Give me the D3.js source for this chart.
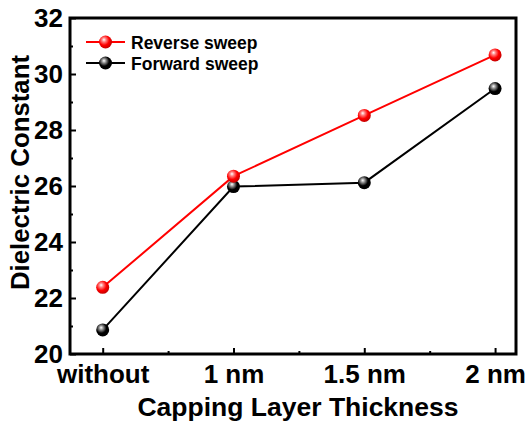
<!DOCTYPE html>
<html>
<head>
<meta charset="utf-8">
<script src="https://cdn.jsdelivr.net/npm/d3@7"></script>
<style>
  html, body { margin: 0; padding: 0; background: #fff; }
  svg text { font-family: "Liberation Sans", Arial, sans-serif; font-weight: bold; fill: #000; }
</style>
</head>
<body>
<svg id="chart" width="526" height="422"></svg>
<script>
// Capping layer thickness categories and dielectric constant per sweep direction
const categories = ["without", "1 nm", "1.5 nm", "2 nm"];
const reverseSweep = [22.38, 26.35, 28.52, 30.68];
const forwardSweep = [20.86, 25.98, 26.12, 29.48];
const yTicks = [20, 22, 24, 26, 28, 30, 32];
const seriesNames = ["Reverse sweep", "Forward sweep"];

const svg = d3.select("#chart");
const margin = { left: 70, right: 10, top: 18, bottom: 68 };
const W = 526, H = 422;
const x0 = margin.left, x1 = W - margin.right, y0 = H - margin.bottom, y1 = margin.top;

const x = d3.scaleLinear().domain([-0.25, 3.16]).range([x0, x1]);
const y = d3.scaleLinear().domain([20, 32]).range([y0, y1]);

// sphere-like marker shading
const defs = svg.append("defs");
function sphere(id, base, mid, dark) {
  const g = defs.append("radialGradient").attr("id", id)
    .attr("cx", "40%").attr("cy", "38%").attr("r", "65%").attr("fx", "38%").attr("fy", "32%");
  g.append("stop").attr("offset", "0%").attr("stop-color", "#ffffff");
  g.append("stop").attr("offset", "25%").attr("stop-color", mid);
  g.append("stop").attr("offset", "60%").attr("stop-color", base);
  g.append("stop").attr("offset", "100%").attr("stop-color", dark);
}
sphere("gRed", "#ff0000", "#ff8080", "#c00000");
sphere("gBlack", "#000000", "#909090", "#000000");

// axes: ticks pointing inward
const xAxis = d3.axisBottom(x).tickValues([0, 1, 2, 3]).tickFormat(i => categories[i]).tickSizeInner(-6).tickSizeOuter(0).tickPadding(11);
const xMinor = d3.axisBottom(x).tickValues([0.5, 1.5, 2.5]).tickFormat("").tickSizeInner(-3).tickSizeOuter(0);
const yAxis = d3.axisLeft(y).tickValues(yTicks).tickSizeInner(-6).tickSizeOuter(0).tickPadding(7);
const yMinor = d3.axisLeft(y).tickValues([21, 23, 25, 27, 29, 31]).tickFormat("").tickSizeInner(-3).tickSizeOuter(0);

function styleAxis(g) {
  g.select(".domain").remove();
  g.selectAll(".tick line").attr("stroke", "#000").attr("stroke-width", 2);
  g.selectAll("text").style("font-size", "26px");
}
svg.append("g").attr("transform", `translate(0,${y0})`).call(xAxis).call(styleAxis);
svg.append("g").attr("transform", `translate(0,${y0})`).call(xMinor).call(styleAxis);
svg.append("g").attr("transform", `translate(${x0},0)`).call(yAxis).call(styleAxis);
svg.append("g").attr("transform", `translate(${x0},0)`).call(yMinor).call(styleAxis);

// frame
svg.append("rect").attr("x", x0).attr("y", y1).attr("width", x1 - x0).attr("height", y0 - y1)
  .attr("fill", "none").attr("stroke", "#000").attr("stroke-width", 3);

// titles
svg.append("text").attr("x", 298).attr("y", 416).attr("text-anchor", "middle")
  .style("font-size", "26.5px").text("Capping Layer Thickness");
svg.append("text").attr("transform", "translate(29,172.5) rotate(-90)").attr("text-anchor", "middle")
  .style("font-size", "25.8px").text("Dielectric Constant");

// series
const series = [
  { name: seriesNames[0], values: reverseSweep, color: "#ff0000", fill: "url(#gRed)" },
  { name: seriesNames[1], values: forwardSweep, color: "#000000", fill: "url(#gBlack)" }
];
const line = d3.line().x((d, i) => x(i)).y(d => y(d));
// draw forward first so reverse sits on top
[...series].reverse().forEach(s => {
  svg.append("path").datum(s.values).attr("d", line).attr("fill", "none")
    .attr("stroke", s.color).attr("stroke-width", 2);
});
[...series].reverse().forEach(s => {
  svg.selectAll(null).data(s.values).enter().append("circle")
    .attr("cx", (d, i) => x(i)).attr("cy", d => y(d)).attr("r", 6.5)
    .attr("fill", s.fill);
});

// legend
const leg = svg.append("g").attr("transform", "translate(86,42)");
series.forEach((s, i) => {
  const g = leg.append("g").attr("transform", `translate(0,${i * 21})`);
  g.append("line").attr("x1", 0).attr("x2", 39).attr("y1", 0).attr("y2", 0).attr("stroke", s.color).attr("stroke-width", 2);
  g.append("circle").attr("cx", 19.5).attr("cy", 0).attr("r", 6.5).attr("fill", s.fill);
  g.append("text").attr("x", 45).attr("y", 6.5).style("font-size", "17.5px").text(s.name);
});
</script>
</body>
</html>
